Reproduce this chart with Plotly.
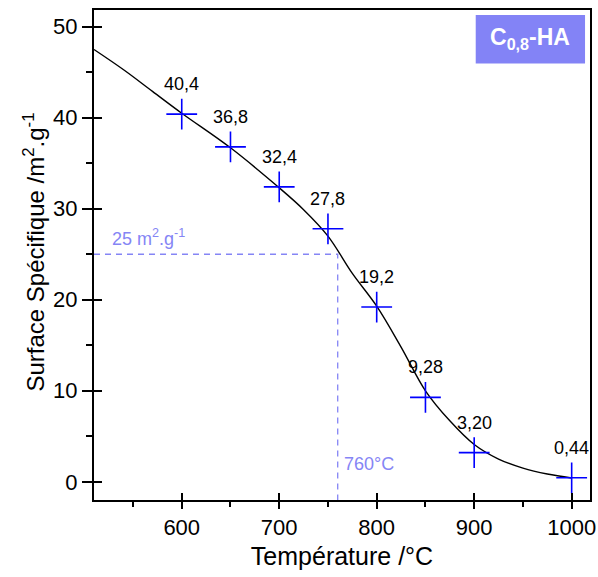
import plotly.graph_objects as go

# Measured points
temperatures = [600, 650, 700, 750, 800, 850, 900, 1000]
surfaces = [40.4, 36.8, 32.4, 27.8, 19.2, 9.28, 3.20, 0.44]
point_labels = ["40,4", "36,8", "32,4", "27,8", "19,2", "9,28", "3,20", "0,44"]

# Fitted curve
curve_x = [510, 540, 570, 600, 650, 700, 725, 750, 775, 800, 825, 850, 875, 900, 925, 950, 975, 1000]
curve_y = [47.5, 45.3, 42.9, 40.5, 36.7, 32.3, 29.9, 27.0, 22.9, 19.3, 14.8, 10.0, 6.7, 4.1, 2.5, 1.5, 0.85, 0.42]

# Reference lines
ref_temp = 760
ref_surface = 25
x_range = [510, 1018.8]
y_range = [-2.0, 51.84]

FONT = "Arial, Liberation Sans, sans-serif"
DASH_COLOR = "#8585F5"

fig = go.Figure()

# dashed guide lines
fig.add_trace(go.Scatter(
    x=[x_range[0], ref_temp, ref_temp], y=[ref_surface, ref_surface, y_range[0]],
    mode="lines", line=dict(color=DASH_COLOR, width=1.3, dash="6px,5px"),
    hoverinfo="skip", showlegend=False))

fig.add_trace(go.Scatter(
    x=curve_x, y=curve_y, mode="lines",
    line=dict(color="black", width=1.4, shape="spline", smoothing=1.0),
    showlegend=False))

fig.add_trace(go.Scatter(
    x=temperatures, y=surfaces, mode="markers",
    marker=dict(symbol="cross-thin", size=22, line=dict(color="#0000FF", width=1.6)),
    showlegend=False, cliponaxis=False))

# invisible trace on the overlay axes (for inner half of crossing ticks)
fig.add_trace(go.Scatter(x=[temperatures[0]], y=[surfaces[0]], xaxis="x2", yaxis="y2",
                         mode="markers", marker=dict(opacity=0), hoverinfo="skip", showlegend=False))

for x, y, t in zip(temperatures, surfaces, point_labels):
    fig.add_annotation(x=x, y=y, text=t, showarrow=False, yshift=30,
                       font=dict(family=FONT, size=18, color="black"))

fig.add_annotation(x=x_range[0], y=ref_surface, xanchor="left", yanchor="bottom", yshift=3, xshift=16,
                   text="25 m<sup>2</sup>.g<sup>-1</sup>", showarrow=False,
                   font=dict(family=FONT, size=18, color=DASH_COLOR))
fig.add_annotation(x=ref_temp, y=y_range[0], xanchor="left", yanchor="bottom", yshift=24, xshift=4,
                   text="760°C", showarrow=False,
                   font=dict(family=FONT, size=18, color=DASH_COLOR))

# title box
fig.add_shape(type="rect", xref="paper", yref="paper", x0=0.7696, x1=0.99, y0=0.891, y1=0.99,
              fillcolor="#8383F6", line=dict(width=0))
fig.add_annotation(xref="paper", yref="paper", x=0.8795, y=0.941, xanchor="center", yanchor="middle",
                   showarrow=False, text="<b>C<sub>0,8</sub>-HA</b>",
                   font=dict(family=FONT, size=23, color="white"))

# y axis title
fig.add_annotation(xref="paper", yref="paper", x=-0.121, y=0.507, xanchor="center", yanchor="middle",
                   textangle=-90, showarrow=False,
                   text="Surface Spécifique /m<sup>2</sup>.g<sup>-1</sup>",
                   font=dict(family=FONT, size=24, color="black"))

axis_common = dict(showgrid=False, zeroline=False, showline=True, linecolor="black", linewidth=2,
                   mirror=True, ticks="outside", tickwidth=2, tickcolor="black", automargin=False)

fig.update_xaxes(range=x_range, tick0=600, dtick=100, ticklen=7,
                 tickfont=dict(family=FONT, size=22, color="black"),
                 minor=dict(ticks="outside", ticklen=5, tickwidth=2, tickcolor="black", dtick=50, tick0=550),
                 title=dict(text="Température /°C", font=dict(family=FONT, size=25, color="black"), standoff=8),
                 **axis_common)
fig.update_yaxes(range=y_range, tick0=0, dtick=10, ticklen=10,
                 tickfont=dict(family=FONT, size=22, color="black"),
                 minor=dict(ticks="outside", ticklen=6, tickwidth=2, tickcolor="black", dtick=5, tick0=5),
                 **axis_common)

fig.update_layout(
    xaxis2=dict(overlaying="x", matches="x", anchor="y", side="bottom", range=x_range,
                tick0=600, dtick=100, ticks="inside", ticklen=7, tickwidth=2, tickcolor="black",
                showticklabels=False, showline=False, showgrid=False, zeroline=False, automargin=False),
    yaxis2=dict(overlaying="y", matches="y", anchor="x", side="left", range=y_range,
                tick0=0, dtick=10, ticks="inside", ticklen=8, tickwidth=2, tickcolor="black",
                showticklabels=False, showline=False, showgrid=False, zeroline=False, automargin=False),
)

fig.update_layout(width=598, height=577, margin=dict(l=94, r=8, t=10, b=77, autoexpand=False),
                  plot_bgcolor="white", paper_bgcolor="white", showlegend=False)

fig.write_html("out.html", config={"displayModeBar": False},
               post_script="document.body.style.margin='0';document.body.style.overflow='hidden';"
                           "document.documentElement.style.overflow='hidden';")
